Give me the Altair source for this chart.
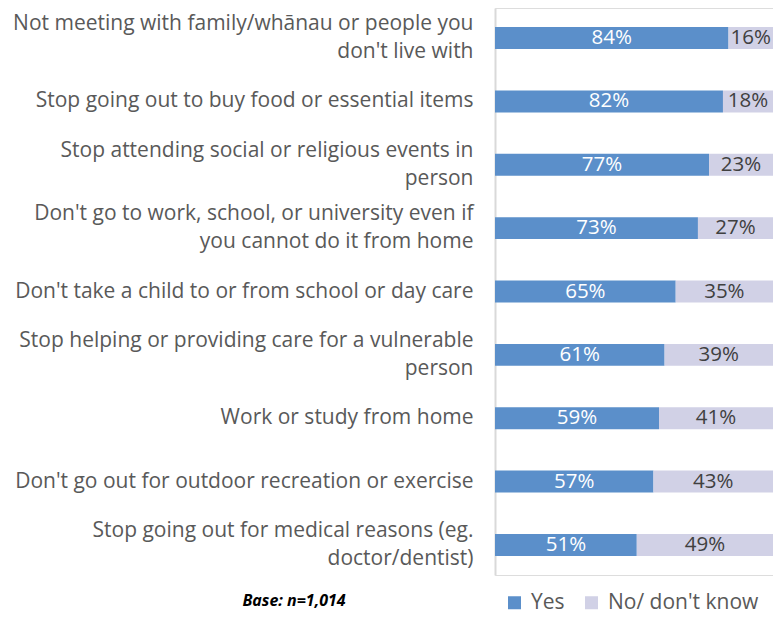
import altair as alt
import pandas as pd

categories = [
    "Not meeting with family/whānau or people you|don't live with",
    "Stop going out to buy food or essential items",
    "Stop attending social or religious events in|person",
    "Don't go to work, school, or university even if|you cannot do it from home",
    "Don't take a child to or from school or day care",
    "Stop helping or providing care for a vulnerable|person",
    "Work or study from home",
    "Don't go out for outdoor recreation or exercise",
    "Stop going out for medical reasons (eg.|doctor/dentist)",
]
yes_values = [84, 82, 77, 73, 65, 61, 59, 57, 51]
no_values = [16, 18, 23, 27, 35, 39, 41, 43, 49]
series = ["Yes", "No/ don't know"]
colors = ["#5B8FCA", "#D1D1E6"]
base_note = "Base: n=1,014"

rows = []
for i, c in enumerate(categories):
    rows.append({"cat": c, "series": series[0], "order": 0, "value": yes_values[i]})
    rows.append({"cat": c, "series": series[1], "order": 1, "value": no_values[i]})
df = pd.DataFrame(rows)

FONT = "Open Sans"

base = alt.Chart(df).transform_stack(
    stack="value", groupby=["cat"], as_=["v0", "v1"], sort=[alt.SortField("order")]
).transform_calculate(mid="(datum.v0 + datum.v1) / 2", lab="datum.value + '%'")

y_enc = alt.Y(
    "cat:N",
    sort=categories,
    title=None,
    scale=alt.Scale(paddingInner=0.653, paddingOuter=0.3),
    axis=alt.Axis(
        labelExpr="split(datum.label, '|')",
        labelFont=FONT,
        labelFontSize=21,
        labelColor="#595959",
        labelLimit=600,
        labelPadding=22,
        labelLineHeight=28,
        labelOffset=alt.expr("indexof(datum.value, '|') >= 0 ? -14 : 0"),
        ticks=False,
        domainColor="#D9D9D9",
        domainWidth=2,
        grid=False,
    ),
)

bars = base.mark_bar().encode(
    y=y_enc,
    x=alt.X("v0:Q", scale=alt.Scale(domain=[0, 100]), axis=None),
    x2="v1:Q",
    color=alt.Color(
        "series:N",
        scale=alt.Scale(domain=series, range=colors),
        legend=alt.Legend(
            title=None,
            orient="none",
            legendX=9,
            legendY=584,
            direction="horizontal",
            symbolType="square",
            symbolSize=169,
            symbolStrokeWidth=0,
            labelFont=FONT,
            labelFontSize=21,
            labelColor="#595959",
            columnPadding=16,
            labelOffset=6,
        ),
    ),
)

texts = base.mark_text(font=FONT, fontSize=20.5).encode(
    y=alt.Y("cat:N", sort=categories),
    x="mid:Q",
    text="lab:N",
    color=alt.Color(
        "series:N",
        scale=alt.Scale(domain=series, range=["#FFFFFF", "#404040"]),
        legend=None,
    ),
)

note = alt.Chart(pd.DataFrame({"t": [base_note]})).mark_text(
    font=FONT, fontSize=16, fontStyle="italic", fontWeight="bold", color="#000000"
).encode(text="t:N", x=alt.value(-201), y=alt.value(593))

chart = (
    alt.layer(bars, texts, note)
    .resolve_scale(color="independent")
    .properties(
        width=278,
        height=567,
        autosize=alt.AutoSizeParams(type="none"),
        padding={"left": 487, "top": 0, "right": 0, "bottom": 38},
    )
    .configure_view(stroke=None)
    .configure(background="white")
)

chart.save("out.html", embed_options={"renderer": "svg", "actions": False})
